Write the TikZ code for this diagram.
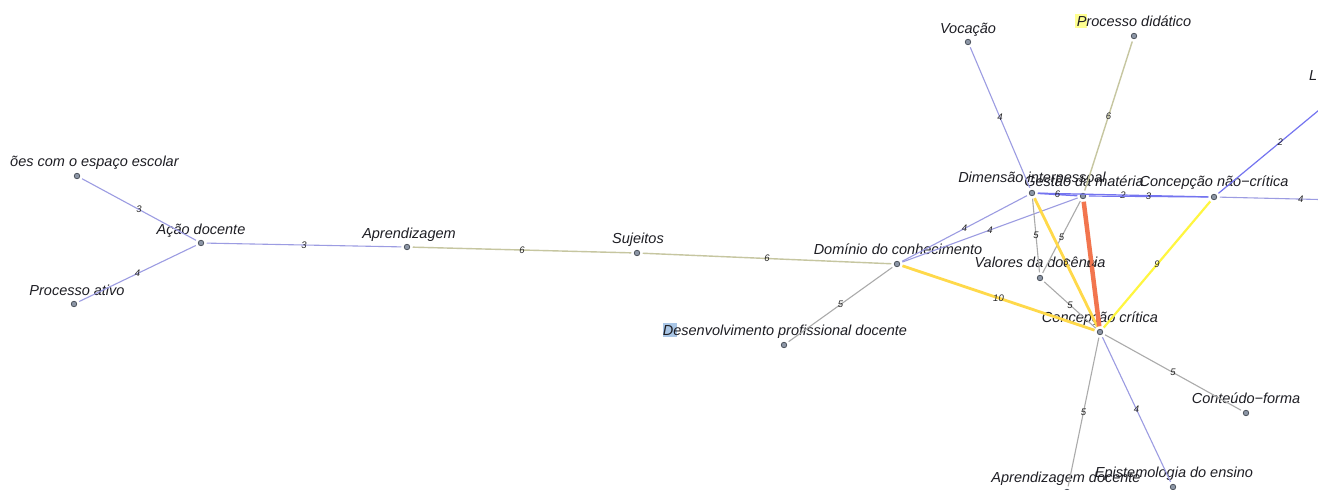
\documentclass[tikz,border=0pt]{standalone}
\usepackage{fontspec}
\setmainfont{Liberation Sans}
\definecolor{txt}{HTML}{1E1E24}
\definecolor{wtxt}{HTML}{262626}
\definecolor{dotfill}{HTML}{8C96A6}
\definecolor{dotline}{HTML}{50565F}
\definecolor{cblue}{HTML}{9C9CE2}
\definecolor{cbright}{HTML}{7474F0}
\definecolor{colive}{HTML}{C6C6A0}
\definecolor{cgray}{HTML}{ABABAB}
\definecolor{cgold}{HTML}{FFD94A}
\definecolor{cyellow}{HTML}{FFF640}
\definecolor{cred}{HTML}{F2754E}
\definecolor{hiyellow}{HTML}{FFFF90}
\definecolor{hiblue}{HTML}{A9C6E6}
\begin{document}
\begin{tikzpicture}[x=1pt,y=-1pt,
  dot/.style={circle,draw=dotline,fill=dotfill,line width=0.8pt,inner sep=0pt,
    minimum size=5.5pt,outer sep=3pt},
  lbl/.style={anchor=base,inner sep=0pt,text=txt,
    font=\itshape\fontsize{14.5}{16}\selectfont},
  w/.style={midway,inner sep=0pt,text=wtxt,font=\itshape\fontsize{9.5}{10}\selectfont},
  eblue/.style={draw=cblue,line width=1.1pt},
  ebright/.style={draw=cbright,line width=1.2pt},
  eolive/.style={draw=colive,line width=1.4pt},
  egray/.style={draw=cgray,line width=1.1pt},
  egold/.style={draw=cgold,line width=2.8pt},
  eyellow/.style={draw=cyellow,line width=2.2pt},
  ered/.style={draw=cred,line width=4.5pt}]
\useasboundingbox (0,0) rectangle (1318,490);
\fill[white] (0,0) rectangle (1318,490);
\clip (0,0) rectangle (1318,490);

% marker highlights behind two initials
\fill[hiyellow] (1075,14) rectangle (1087,28);
\fill[hiblue] (663,323) rectangle (677,337);

% term labels
\node[lbl,anchor=base west] (relL) at (10,166) {ões com o espaço escolar};
\node[lbl] (acaoL) at (201,234) {Ação docente};
\node[lbl] (ativoL) at (77,295) {Processo ativo};
\node[lbl] (aprL) at (409,238) {Aprendizagem};
\node[lbl] (sujL) at (638,243) {Sujeitos};
\node[lbl] (domL) at (898,254) {Domínio do conhecimento};
\node[lbl] (desL) at (785,335) {Desenvolvimento profissional docente};
\node[lbl] (dimL) at (1032,182) {Dimensão interpessoal};
\node[lbl] (gesL) at (1084,186) {Gestão da matéria};
\node[lbl] (ncL) at (1214,186) {Concepção não−crítica};
\node[lbl] (valL) at (1040,267) {Valores da docência};
\node[lbl] (ccL) at (1100,322) {Concepção crítica};
\node[lbl] (cfL) at (1246,403) {Conteúdo−forma};
\node[lbl] (apdL) at (1066,482) {Aprendizagem docente};
\node[lbl] (epiL) at (1174,477) {Epistemologia do ensino};
\node[lbl] (vocL) at (968,33) {Vocação};
\node[lbl] (didL) at (1134,26) {Processo didático};
\node[lbl,anchor=base west] (lL) at (1309,80) {L};

% term dots
\node[dot] (rel) at (77,176) {};
\node[dot] (acao) at (201,243) {};
\node[dot] (ativo) at (74,304) {};
\node[dot] (apr) at (407,247) {};
\node[dot] (suj) at (637,253) {};
\node[dot] (dom) at (897,264) {};
\node[dot] (des) at (784,345) {};
\node[dot] (dim) at (1032,193) {};
\node[dot] (ges) at (1083,196) {};
\node[dot] (nc) at (1214,197) {};
\node[dot] (val) at (1040,278) {};
\node[dot] (cc) at (1100,332) {};
\node[dot] (cf) at (1246,413) {};
\node[dot] (apd) at (1067,492) {};
\node[dot] (epi) at (1173,487) {};
\node[dot] (voc) at (968,42) {};
\node[dot] (did) at (1134,36) {};
\coordinate (ldot) at (1342,91);
\coordinate (rdot) at (1382,201);

% weighted links
\draw[eblue] (rel) -- node[w]{3} (acao);
\draw[eblue] (ativo) -- node[w]{4} (acao);
\draw[eblue] (acao) -- node[w]{3} (apr);
\draw[eolive] (apr) -- node[w]{6} (suj);
\draw[eolive] (suj) -- node[w]{6} (dom);
\draw[egray] (dom) -- node[w]{5} (des);
\draw[eblue] (dom) -- node[w]{4} (dim);
\draw[eblue] (dom) -- node[w]{4} (ges);
\draw[egold] (dom) -- node[w]{10} (cc);
\draw[eblue] (voc) -- node[w]{4} (dim);
\draw[eolive] (did) -- node[w]{6} (ges);
\draw[ebright] (dim) -- node[w]{2} (nc);
\draw[ebright] (ges) -- node[w]{3} (nc);
\draw[ebright,line width=1.5pt] (dim) -- node[w]{6} (ges);
\draw[egray] (dim) -- node[w]{5} (val);
\draw[egray] (ges) -- node[w]{5} (val);
\draw[egray] (val) -- node[w]{5} (cc);
\draw[egold] (dim) -- node[w]{6} (cc);
\draw[ered] (ges) -- node[w]{14} (cc);
\draw[eyellow] (nc) -- node[w]{9} (cc);
\draw[ebright] (nc) -- node[w]{2} (ldot);
\draw[eblue] (nc) -- node[w]{4} (rdot);
\draw[egray] (cc) -- node[w]{5} (cf);
\draw[egray] (cc) -- node[w]{5} (apd);
\draw[eblue] (cc) -- node[w]{4} (epi);
\end{tikzpicture}
\end{document}
